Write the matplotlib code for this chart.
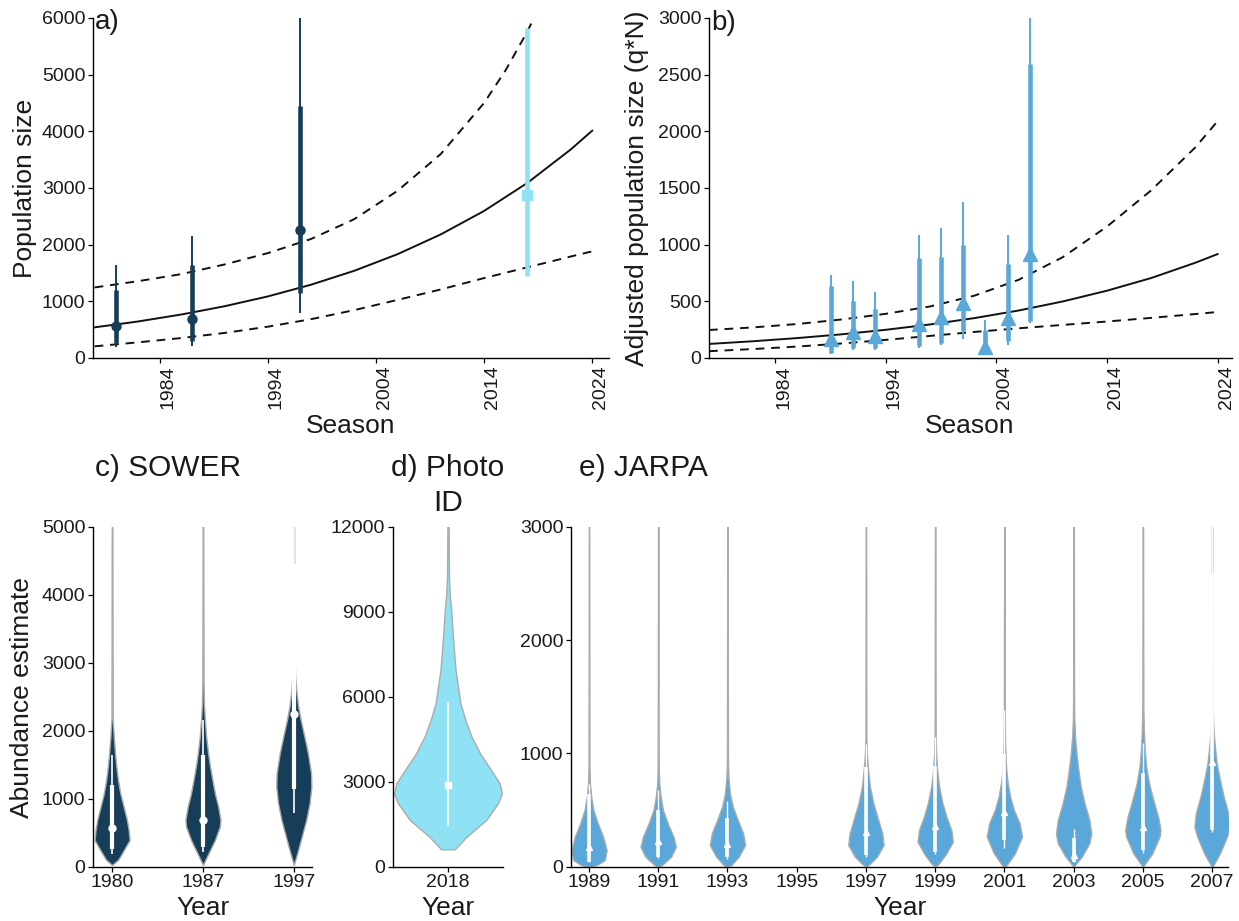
import numpy as np
import matplotlib
matplotlib.use("Agg")
import matplotlib.pyplot as plt

plt.rcParams['font.family'] = ['Liberation Sans', 'DejaVu Sans']

# ---------------- trend model (panel a: N, panel b: q*N) ----------------
TREND_YEARS = [1978, 1982, 1986, 1990, 1994, 1998, 2002, 2006, 2010, 2014, 2018, 2022, 2024]
N_MEDIAN = [541, 644, 767, 913, 1086, 1293, 1539, 1832, 2181, 2595, 3089, 3678, 4012]
N_LOWER = [206, 276, 352, 442, 552, 685, 845, 1025, 1210, 1410, 1600, 1790, 1882]
N_UPPER_YEARS = [1978, 1982, 1986, 1990, 1994, 1998, 2002, 2006, 2010, 2014, 2016, 2018, 2020]
N_UPPER = [1245, 1355, 1480, 1650, 1850, 2100, 2450, 2950, 3600, 4500, 5080, 5760, 6550]
QN_MEDIAN = [124, 148, 176, 209, 249, 296, 352, 419, 499, 594, 706, 841, 917]
QN_LOWER = [60, 79, 101, 128, 160, 195, 230, 262, 292, 322, 354, 388, 406]
QN_UPPER = [247, 270, 300, 340, 390, 455, 550, 690, 890, 1160, 1480, 1860, 2090]

# ---------------- survey estimates ----------------
SOWER_YEARS = [1980, 1987, 1997]
SOWER_MED = [570, 690, 2250]
SOWER_IN_LO = [265, 294, 1147]
SOWER_IN_HI = [1206, 1647, 4453]
SOWER_OUT_LO = [188, 218, 794]
SOWER_OUT_HI = [1647, 2159, 6300]

PHOTO_YEARS = [2018]
PHOTO_MED = [2882]
PHOTO_LO = [1441]
PHOTO_HI = [5824]

JARPA_YEARS = [1989, 1991, 1993, 1997, 1999, 2001, 2003, 2005, 2007]
JARPA_MED = [170, 229, 197, 303, 359, 485, 100, 353, 921]
JARPA_IN_LO = [44, 88, 88, 103, 132, 235, 44, 147, 324]
JARPA_IN_HI = [638, 500, 432, 882, 888, 997, 250, 829, 2594]
JARPA_OUT_LO = [38, 74, 68, 88, 112, 168, 38, 118, 309]
JARPA_OUT_HI = [732, 676, 582, 1085, 1144, 1379, 332, 1088, 3200]
JARPA_AXIS_YEARS = [1989, 1991, 1993, 1995, 1997, 1999, 2001, 2003, 2005, 2007]

# ---------------- posterior density outlines (value, relative half-width) ----------------
SOWER_VIOLIN_Y = [
    [25, 100, 196, 392, 539, 686, 882, 1078, 1275, 1471, 1667, 1912, 2200, 5200],
    [25, 100, 196, 392, 588, 686, 882, 1078, 1275, 1471, 1667, 1912, 2157, 2402, 2800, 5200],
    [25, 196, 441, 686, 931, 1176, 1373, 1667, 1912, 2157, 2353, 2549, 2794, 3100, 5200],
]
SOWER_VIOLIN_W = [
    [0, 6, 10, 17.7, 16.7, 15, 11.7, 8.3, 6, 4.3, 3, 1.7, 0.6, 0.3],
    [0, 2.5, 5.7, 12.3, 17.3, 18, 15.7, 12.3, 9.7, 7.3, 5.3, 3.3, 2, 1, 0.6, 0.3],
    [0, 3.3, 7.7, 12, 15.3, 17, 16.7, 13.7, 10.3, 6.7, 4.3, 2.7, 1.3, 0.6, 0.3],
]
PHOTO_VIOLIN_Y = [614, 1059, 1648, 2236, 2589, 2942, 3412, 4000, 4588, 5177, 5765,
                  6941, 8118, 9060, 9530, 10200, 12500]
PHOTO_VIOLIN_W = [7, 19, 39, 51, 55, 52.7, 44, 32.7, 24, 17.7, 12.7, 7.7, 5, 3.3, 2, 1, 0.5]

JARPA_VIOLIN_Y = [
    [0, 15, 59, 147, 265, 382, 500, 618, 735, 900, 3100],
    [0, 15, 88, 176, 265, 382, 500, 618, 735, 900, 3100],
    [0, 15, 88, 191, 294, 412, 529, 647, 794, 950, 3100],
    [0, 29, 88, 191, 294, 412, 559, 706, 853, 1000, 1150, 3100],
    [0, 29, 118, 221, 324, 441, 559, 706, 853, 1000, 1150, 3100],
    [0, 15, 118, 265, 382, 500, 618, 765, 912, 1088, 1250, 3100],
    [0, 15, 88, 206, 294, 412, 559, 706, 853, 1000, 1147, 1294, 1450, 3100],
    [0, 29, 118, 265, 324, 441, 588, 735, 882, 1029, 1206, 1400, 3100],
    [0, 15, 118, 265, 353, 471, 618, 765, 912, 1059, 1206, 1353, 1500, 3100],
]
JARPA_VIOLIN_W = [
    [4, 18, 36, 40, 32, 20, 10, 5, 2, 1, 0.4],
    [0, 8, 27, 37, 32, 20, 10, 5, 2, 1, 0.4],
    [0, 8, 23, 36, 32, 21, 11, 5, 2, 1, 0.4],
    [0, 10, 25, 40, 37, 28, 17, 9, 5, 2, 1, 0.4],
    [0, 8, 23, 36, 33, 23, 15, 8, 4, 2, 1, 0.4],
    [0, 5, 22, 37, 32, 20, 12, 6, 3, 1.5, 1, 0.4],
    [0, 3, 17, 33, 37, 33, 23, 15, 10, 6, 3, 1.5, 1, 0.4],
    [0, 5, 20, 35, 37, 32, 22, 13, 7, 4, 2, 1, 0.4],
    [0, 3, 17, 32, 38, 35, 25, 17, 10, 6, 3, 1.5, 1, 0.4],
]

NAVY = '#163E58'
CYAN = '#8FE1F4'
BLUE = '#5AA7DA'
EDGE = '#ABABAB'
TXT = '#1A1A1A'

TICK_SIZE = 14
AXIS_TITLE = 19
PANEL_TITLE = 21.5
TAG_SIZE = 20

W, H = 1239, 921
fig = plt.figure(figsize=(W / 100, H / 100), dpi=100)
fig.patch.set_facecolor('white')


def px_axes(x0, x1, y0, y1):
    return fig.add_axes([x0 / W, 1 - y1 / H, (x1 - x0) / W, (y1 - y0) / H])


def px_text(x, y, s, **kw):
    fig.text(x / W, 1 - y / H, s, color=TXT, **kw)


def style(ax, size):
    for side in ('top', 'right'):
        ax.spines[side].set_visible(False)
    for side in ('left', 'bottom'):
        ax.spines[side].set_linewidth(1.0)
        ax.spines[side].set_color('black')
    ax.tick_params(axis='both', length=3.5, width=0.9, color='black',
                   labelsize=size, labelcolor=TXT, pad=2)


DASH = (0, (4.5, 3.5))

# ---------------- panel a ----------------
ax_a = px_axes(93, 609, 18, 358)
ax_a.plot(TREND_YEARS, N_MEDIAN, color='#111111', lw=1.4, zorder=2)
ax_a.plot(TREND_YEARS, N_LOWER, color='#111111', lw=1.4, ls=DASH, zorder=2)
ax_a.plot(N_UPPER_YEARS, N_UPPER, color='#111111', lw=1.4, ls=DASH, zorder=2)
for yr, md, il, ih, ol, oh in zip(SOWER_YEARS, SOWER_MED, SOWER_IN_LO, SOWER_IN_HI,
                                  SOWER_OUT_LO, SOWER_OUT_HI):
    ax_a.plot([yr, yr], [ol, oh], color=NAVY, lw=1.4, solid_capstyle='butt', zorder=3)
    ax_a.plot([yr, yr], [il, ih], color=NAVY, lw=3.3, solid_capstyle='butt', zorder=3)
    ax_a.plot(yr, md, 'o', color=NAVY, ms=6.5, zorder=4)
for yr, md, lo, hi in zip(PHOTO_YEARS, PHOTO_MED, PHOTO_LO, PHOTO_HI):
    ax_a.plot([yr, yr], [lo, hi], color=CYAN, lw=3.3, solid_capstyle='butt', zorder=3)
    ax_a.plot(yr, md, 's', color=CYAN, ms=6.5, zorder=4)
ax_a.set_xlim(1977.85, 2025.55)
ax_a.set_ylim(0, 6000)
ax_a.set_xticks([1984, 1994, 2004, 2014, 2024])
ax_a.set_yticks(range(0, 6001, 1000))
style(ax_a, TICK_SIZE)

# ---------------- panel b ----------------
ax_b = px_axes(709, 1232, 18, 358)
ax_b.plot(TREND_YEARS, QN_MEDIAN, color='#111111', lw=1.4, zorder=2)
ax_b.plot(TREND_YEARS, QN_LOWER, color='#111111', lw=1.4, ls=DASH, zorder=2)
ax_b.plot(TREND_YEARS, QN_UPPER, color='#111111', lw=1.4, ls=DASH, zorder=2)
for yr, md, il, ih, ol, oh in zip(JARPA_YEARS, JARPA_MED, JARPA_IN_LO, JARPA_IN_HI,
                                  JARPA_OUT_LO, JARPA_OUT_HI):
    ax_b.plot([yr, yr], [ol, oh], color=BLUE, lw=1.4, solid_capstyle='butt', zorder=3)
    ax_b.plot([yr, yr], [il, ih], color=BLUE, lw=3.3, solid_capstyle='butt', zorder=3)
    ax_b.plot(yr, md, '^', color=BLUE, ms=9.5, zorder=4)
ax_b.set_xlim(1978.0, 2025.3)
ax_b.set_ylim(0, 3000)
ax_b.set_xticks([1984, 1994, 2004, 2014, 2024])
ax_b.set_yticks(range(0, 3001, 500))
style(ax_b, TICK_SIZE)

for ax in (ax_a, ax_b):
    for lab in ax.get_xticklabels():
        lab.set_rotation(90)
        lab.set_ha('right')
        lab.set_va('top')
        lab.set_rotation_mode('anchor')

px_text(95, 29, 'a)', fontsize=TAG_SIZE, ha='left', va='baseline')
px_text(711, 30, 'b)', fontsize=TAG_SIZE, ha='left', va='baseline')
px_text(25, 188, 'Population size', fontsize=AXIS_TITLE, rotation=90,
        ha='center', va='center')
px_text(637, 188, 'Adjusted population size (q*N)', fontsize=AXIS_TITLE, rotation=90,
        ha='center', va='center')
px_text(351, 433, 'Season', fontsize=AXIS_TITLE, ha='center', va='baseline')
px_text(970, 433, 'Season', fontsize=AXIS_TITLE, ha='center', va='baseline')


# ---------------- violin helpers ----------------
def violin(ax, pos, ys, ws, half, face):
    ys = np.asarray(ys, float)
    ws = np.asarray(ws, float)
    hw = ws / ws.max() * half
    ax.fill_betweenx(ys, pos - hw, pos + hw, facecolor=face, edgecolor=EDGE,
                     linewidth=1.0, zorder=2)


def interval(ax, pos, lo, hi, lw):
    ax.plot([pos, pos], [lo, hi], color='white', lw=lw, solid_capstyle='butt', zorder=3)


# ---------------- panel c ----------------
ax_c = px_axes(93, 312, 526.7, 866.7)
for i, (ys, ws) in enumerate(zip(SOWER_VIOLIN_Y, SOWER_VIOLIN_W)):
    pos = i + 1
    violin(ax_c, pos, ys, ws, 0.193, NAVY)
    interval(ax_c, pos, SOWER_OUT_LO[i], SOWER_OUT_HI[i], 1.2)
    interval(ax_c, pos, SOWER_IN_LO[i], SOWER_IN_HI[i], 3.0)
    ax_c.plot(pos, SOWER_MED[i], 'o', color='white', ms=5, zorder=4)
ax_c.set_xlim(0.79, 3.2)
ax_c.set_ylim(0, 5000)
ax_c.set_xticks([1, 2, 3])
ax_c.set_xticklabels([str(y) for y in SOWER_YEARS])
ax_c.set_yticks(range(0, 5001, 1000))
style(ax_c, TICK_SIZE)

# ---------------- panel d ----------------
ax_d = px_axes(393, 503, 526.7, 866.7)
violin(ax_d, 1, PHOTO_VIOLIN_Y, PHOTO_VIOLIN_W, 0.49, CYAN)
interval(ax_d, 1, PHOTO_LO[0], PHOTO_HI[0], 1.2)
ax_d.plot(1, PHOTO_MED[0], 's', color='white', ms=4.5, zorder=4)
ax_d.set_xlim(0.5, 1.5)
ax_d.set_ylim(0, 12000)
ax_d.set_xticks([1])
ax_d.set_xticklabels([str(y) for y in PHOTO_YEARS])
ax_d.set_yticks(range(0, 12001, 3000))
style(ax_d, TICK_SIZE)

# ---------------- panel e ----------------
ax_e = px_axes(571, 1228, 526.7, 866.7)
for i, yr in enumerate(JARPA_YEARS):
    pos = JARPA_AXIS_YEARS.index(yr) + 1
    violin(ax_e, pos, JARPA_VIOLIN_Y[i], JARPA_VIOLIN_W[i], 0.255, BLUE)
    interval(ax_e, pos, JARPA_OUT_LO[i], JARPA_OUT_HI[i], 1.0)
    interval(ax_e, pos, JARPA_IN_LO[i], JARPA_IN_HI[i], 2.6)
    ax_e.plot(pos, JARPA_MED[i], '^', color='white', ms=4.5, zorder=4)
ax_e.set_xlim(0.74, 10.23)
ax_e.set_ylim(0, 3000)
ax_e.set_xticks(range(1, len(JARPA_AXIS_YEARS) + 1))
ax_e.set_xticklabels([str(y) for y in JARPA_AXIS_YEARS])
ax_e.set_yticks(range(0, 3001, 1000))
style(ax_e, TICK_SIZE)

px_text(95, 476, 'c) SOWER', fontsize=PANEL_TITLE, ha='left', va='baseline')
px_text(448, 476, 'd) Photo', fontsize=PANEL_TITLE, ha='center', va='baseline')
px_text(448, 511, 'ID', fontsize=PANEL_TITLE, ha='center', va='baseline')
px_text(579, 476, 'e) JARPA', fontsize=PANEL_TITLE, ha='left', va='baseline')
px_text(22, 697, 'Abundance estimate', fontsize=AXIS_TITLE, rotation=90,
        ha='center', va='center')
px_text(203, 915, 'Year', fontsize=AXIS_TITLE, ha='center', va='baseline')
px_text(448, 915, 'Year', fontsize=AXIS_TITLE, ha='center', va='baseline')
px_text(900, 915, 'Year', fontsize=AXIS_TITLE, ha='center', va='baseline')

fig.savefig('out.png', dpi=100, facecolor='white')
